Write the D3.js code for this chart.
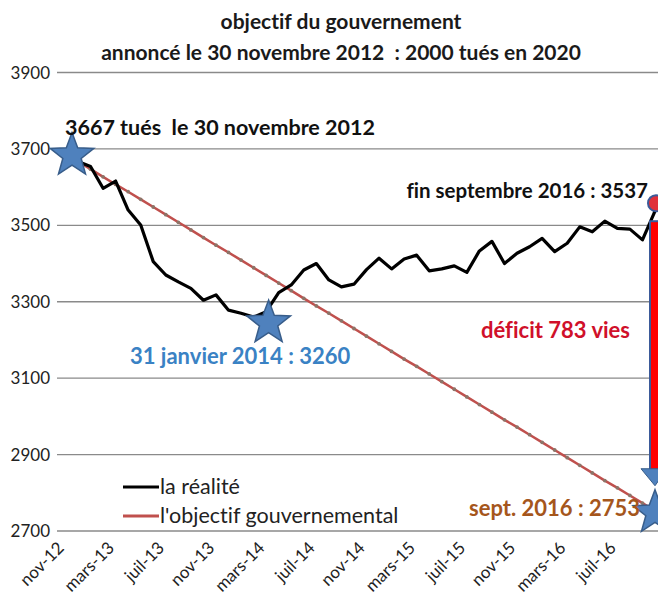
<!DOCTYPE html>
<html>
<head>
<meta charset="utf-8">
<title>objectif du gouvernement</title>
<script src="https://d3js.org/d3.v7.min.js"></script>
<style>
  body { margin: 0; background: #fff; }
  text { font-family: Lato, "Open Sans", sans-serif; font-variant-ligatures: none; }
</style>
</head>
<body>
<div id="stage"></div>
<script>
// months from nov-12 to sept-16 (French Excel format)
var months = ["nov-12","déc-12","janv-13","févr-13","mars-13","avr-13","mai-13","juin-13","juil-13","août-13","sept-13","oct-13",
  "nov-13","déc-13","janv-14","févr-14","mars-14","avr-14","mai-14","juin-14","juil-14","août-14","sept-14","oct-14",
  "nov-14","déc-14","janv-15","févr-15","mars-15","avr-15","mai-15","juin-15","juil-15","août-15","sept-15","oct-15",
  "nov-15","déc-15","janv-16","févr-16","mars-16","avr-16","mai-16","juin-16","juil-16","août-16","sept-16"];

// "la réalité" - 12 month rolling number of deaths
var realite = [3667,3654,3597,3616,3540,3501,3405,3370,3352,3335,3304,3318,
  3278,3270,3260,3274,3324,3344,3383,3400,3357,3339,3346,3384,
  3414,3386,3412,3422,3381,3386,3394,3377,3433,3458,3400,3427,
  3444,3466,3431,3453,3496,3483,3511,3492,3490,3462,3537];

// "l'objectif gouvernemental"
var objectif = [3667,3647,3627,3607,3588,3568,3548,3528,3508,3488,3468,3448,
  3429,3409,3389,3369,3349,3329,3309,3289,3270,3250,3230,3210,
  3190,3170,3150,3131,3111,3091,3071,3051,3031,3011,2991,2972,
  2952,2932,2912,2892,2872,2852,2832,2813,2793,2773,2753];

var yTicks = [2700,2900,3100,3300,3500,3700,3900];
var shownMonths = ["nov-12","mars-13","juil-13","nov-13","mars-14","juil-14","nov-14","mars-15","juil-15","nov-15","mars-16","juil-16"];

var width = 658, height = 607;

var svg = d3.select("#stage").append("svg")
  .attr("width", width)
  .attr("height", height);

var x = d3.scalePoint().domain(months).range([78, 655]);
var y = d3.scaleLinear().domain([2700, 3900]).range([531, 72.5]);

// gridlines + y labels
svg.append("g").selectAll("line")
  .data(yTicks)
  .enter().append("line")
    .attr("x1", 57).attr("x2", width)
    .attr("y1", function(d) { return y(d); })
    .attr("y2", function(d) { return y(d); })
    .attr("stroke", "#8a8a8a")
    .attr("stroke-width", 1.3);

svg.append("g").selectAll("text")
  .data(yTicks)
  .enter().append("text")
    .attr("x", 50)
    .attr("y", function(d) { return y(d) + 6; })
    .attr("text-anchor", "end")
    .attr("font-size", 17)
    .attr("fill", "#222")
    .text(function(d) { return d; });

// x labels, rotated
svg.append("g").selectAll("text")
  .data(shownMonths)
  .enter().append("text")
    .attr("text-anchor", "end")
    .attr("font-size", 17)
    .attr("fill", "#222")
    .attr("transform", function(d) { return "translate(" + (x(d) - 13) + ",549)rotate(-45)"; })
    .text(function(d) { return d; });

// objective line
var line = d3.line()
  .x(function(d, i) { return x(months[i]); })
  .y(function(d) { return y(d); });

svg.append("path")
  .datum(objectif)
  .attr("d", line)
  .attr("fill", "none")
  .attr("stroke", "#c0504d")
  .attr("stroke-width", 2.5);

svg.append("g").selectAll("circle")
  .data(objectif)
  .enter().append("circle")
    .attr("cx", function(d, i) { return x(months[i]); })
    .attr("cy", function(d) { return y(d); })
    .attr("r", 1.9)
    .attr("fill", "#8c7468");

// reality line
svg.append("path")
  .datum(realite)
  .attr("d", line)
  .attr("fill", "none")
  .attr("stroke", "#000")
  .attr("stroke-width", 3.2)
  .attr("stroke-linejoin", "round");

// star helper
function star(cx, cy, r) {
  var pts = [];
  for (var k = 0; k < 10; k++) {
    var rr = k % 2 === 0 ? r : r * 0.42;
    var a = -Math.PI / 2 + k * Math.PI / 5;
    pts.push([cx + rr * Math.cos(a), cy + rr * Math.sin(a)]);
  }
  return "M" + pts.join("L") + "Z";
}

// red deficit arrow at the right edge
var xe = x(months[46]);
svg.append("rect")
  .attr("x", xe - 5).attr("y", y(3537) + 10)
  .attr("width", 14).attr("height", y(2753) - y(3537) - 50)
  .attr("fill", "#ff0000")
  .attr("stroke", "#3b5a99")
  .attr("stroke-width", 2);
svg.append("path")
  .attr("d", "M" + (xe - 14) + "," + (y(2753) - 42) + "L" + (xe + 12) + "," + (y(2753) - 42) + "L" + xe + "," + (y(2753) - 25) + "Z")
  .attr("fill", "#4f81bd")
  .attr("stroke", "#385d8a");
svg.append("circle")
  .attr("cx", xe + 1).attr("cy", y(3537) - 8)
  .attr("r", 8)
  .attr("fill", "#e0303a")
  .attr("stroke", "#3b5a99")
  .attr("stroke-width", 2);

// stars
var stars = [
  {i: 0, v: 3667, dx: -6, dy: -6},
  {i: 14, v: 3260, dx: 15, dy: 6},
  {i: 46, v: 2753, dx: 0, dy: 2}
];
svg.append("g").selectAll("path")
  .data(stars)
  .enter().append("path")
    .attr("d", function(d) { return star(x(months[d.i]) + d.dx, y(d.v) + d.dy, 23); })
    .attr("fill", "#4f81bd")
    .attr("stroke", "#385d8a")
    .attr("stroke-width", 1.5);

// titles
svg.append("text")
  .attr("x", 341).attr("y", 29)
  .attr("text-anchor", "middle")
  .attr("font-size", 21).attr("font-weight", "bold").attr("fill", "#1a1a1a")
  .text("objectif du gouvernement");
svg.append("text")
  .attr("x", 341).attr("y", 60)
  .attr("text-anchor", "middle")
  .attr("font-size", 21).attr("font-weight", "bold").attr("fill", "#1a1a1a")
  .style("white-space", "pre")
  .text("annoncé le 30 novembre 2012  : 2000 tués en 2020");

// annotations
function note(tx, ty, anchor, color, s, fs) {
  svg.append("text")
    .attr("x", tx).attr("y", ty)
    .attr("text-anchor", anchor)
    .attr("font-size", fs).attr("font-weight", "bold")
    .attr("fill", color)
    .style("white-space", "pre")
    .text(s);
}
note(65, 135, "start", "#111", "3667 tués  le 30 novembre 2012", 21.5);
note(648, 198, "end", "#111", "fin septembre 2016 : 3537", 20.5);
note(130, 364, "start", "#3a82c4", "31 janvier 2014 : 3260", 22);
note(630, 338, "end", "#d0102a", "déficit 783 vies", 22);
note(640, 516, "end", "#a5561c", "sept. 2016 : 2753", 22);

// legend
var legend = [
  {label: "la réalité", color: "#000", w: 3},
  {label: "l'objectif gouvernemental", color: "#c0504d", w: 3}
];
var lg = svg.append("g").selectAll("g")
  .data(legend)
  .enter().append("g")
    .attr("transform", function(d, i) { return "translate(123," + (487 + i * 29) + ")"; });
lg.append("line")
  .attr("x1", 0).attr("x2", 36)
  .attr("stroke", function(d) { return d.color; })
  .attr("stroke-width", function(d) { return d.w; });
lg.append("text")
  .attr("x", 37).attr("y", 7)
  .attr("font-size", 21.5)
  .attr("fill", "#222")
  .text(function(d) { return d.label; });
</script>
</body>
</html>
